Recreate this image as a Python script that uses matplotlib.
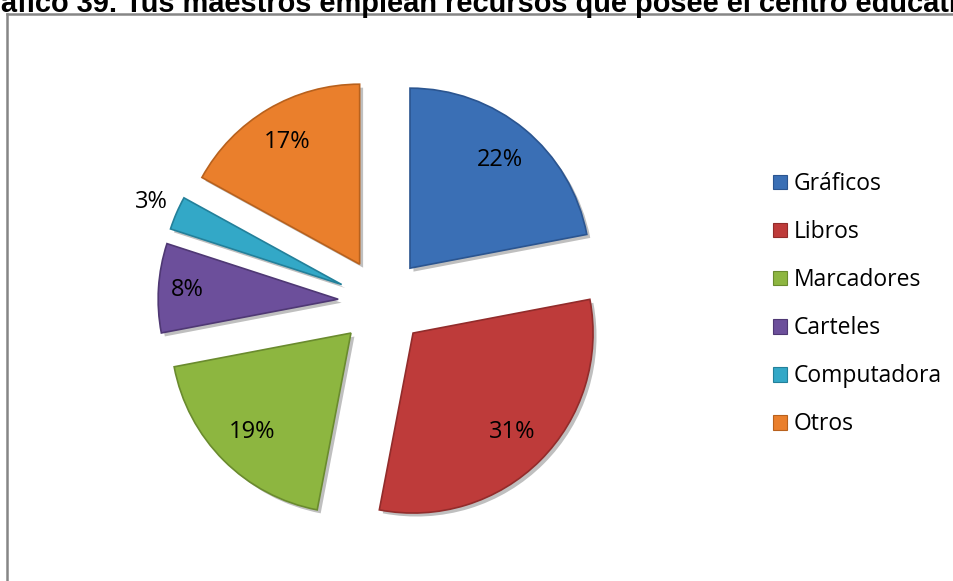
import numpy as np
import matplotlib
matplotlib.use("Agg")
import matplotlib.pyplot as plt
import matplotlib.patches as mpatches
import matplotlib.patheffects as pe
from matplotlib.transforms import offset_copy

# datos del gráfico
categorias = ["Gráficos", "Libros", "Marcadores", "Carteles", "Computadora", "Otros"]
porcentajes = [22, 31, 19, 8, 3, 17]
colores = ["#3A6FB5", "#BE3B3A", "#8DB640", "#6C4F9B", "#33A8C7", "#EA7F2C"]
bordes = ["#2B5590", "#922C2B", "#6A8B2E", "#4F3874", "#23809A", "#B8611D"]
# distancia de cada etiqueta al centro de su porción (en radios)
dist_etiquetas = [0.78, 0.78, 0.78, 0.84, 1.15, 0.79]
titulo = "Gráfico 39. Tus maestros emplean recursos que posee el centro educativo"

W, H = 954, 581
R = 180.0           # radio en pixeles
CX, CY = 382, 302   # centro en pixeles (desde arriba)

fig = plt.figure(figsize=(W / 100, H / 100), dpi=100)
fig.patch.set_facecolor("white")

# ejes en unidades de radio, misma escala en x e y
ax = fig.add_axes([0, 0, 1, 1])
ax.axis("off")

sombra = [pe.SimplePatchShadow(offset=(2.5, -2.5), alpha=0.25, shadow_rgbFace="black"), pe.Normal()]

wedges, _ = ax.pie(
    porcentajes,
    colors=colores,
    startangle=90,
    counterclock=False,
    explode=[0.244] * len(porcentajes),
    radius=1.0,
    center=(0, 0),
    wedgeprops=dict(linewidth=1.2),
)
ax.set_xlim(-CX / R, (W - CX) / R)
ax.set_ylim(-(H - CY) / R, CY / R)
ax.set_aspect("equal")

for w, borde in zip(wedges, bordes):
    w.set_edgecolor(borde)
    w.set_path_effects(sombra)

# etiquetas de porcentaje
for w, p, d in zip(wedges, porcentajes, dist_etiquetas):
    ang = np.deg2rad((w.theta1 + w.theta2) / 2)
    x = w.center[0] + d * np.cos(ang)
    y = w.center[1] + d * np.sin(ang)
    ax.text(x, y, f"{p}%", ha="center", va="center", fontsize=17,
            family=["Open Sans", "DejaVu Sans"], color="black")

# leyenda
handles = [mpatches.Patch(facecolor=c, edgecolor=b, linewidth=0.8, label=l)
           for c, b, l in zip(colores, bordes, categorias)]
leg = fig.legend(handles=handles, loc="upper left",
                 bbox_to_anchor=(764 / W, 1 - 163 / H),
                 frameon=False,
                 prop=dict(family=["Open Sans", "DejaVu Sans"], size=16.5),
                 handlelength=0.6, handleheight=0.6, handletextpad=0.3,
                 labelspacing=1.05, borderaxespad=0)

# marco del área del gráfico (solo se ven el borde superior e izquierdo)
fig.add_artist(plt.Line2D([7.5 / W, 7.5 / W], [0, 1 - 14 / H], color="#868686", linewidth=1.8))
fig.add_artist(plt.Line2D([7.5 / W, 1], [1 - 14 / H, 1 - 14 / H], color="#868686", linewidth=1.8))

# título, cortado por los bordes de la imagen
fs_titulo = 20.85
tr = offset_copy(fig.transFigure, fig=fig, x=-1.14 * fs_titulo, y=0, units="points")
fig.text(0, 1 - 11.5 / H, titulo, transform=tr, ha="left", va="baseline",
         fontsize=fs_titulo, fontweight="bold",
         family=["Liberation Sans", "DejaVu Sans"], color="black")

fig.savefig("out.png", dpi=100, facecolor="white")
